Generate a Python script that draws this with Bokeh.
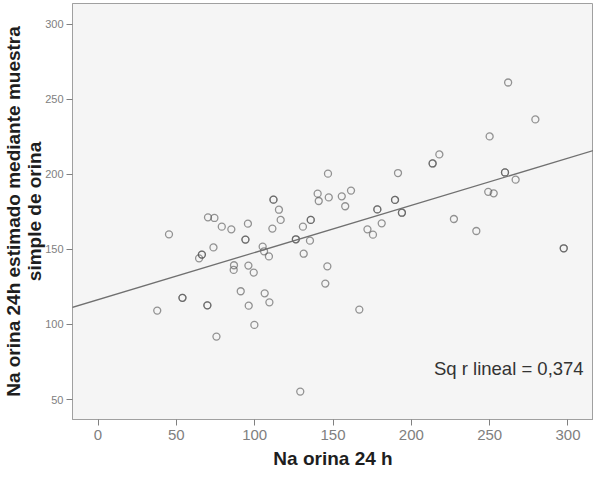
from bokeh.plotting import figure
from bokeh.models import Range1d, Slope, Label, FixedTicker
from bokeh.embed import file_html
from bokeh.resources import INLINE

# Data
na_orina_24h = [37.8, 45.3, 53.9, 53.9, 64.5, 66.3, 66.3, 69.8, 69.8, 70.2,
                73.7, 74.3, 75.6, 79.0, 85.1, 86.8, 86.6, 91.1, 94.1, 94.1,
                95.7, 96.0, 96.2, 99.4, 99.8, 105.1, 106.0, 106.4, 109.1, 109.4,
                111.3, 112.0, 112.0, 115.5, 116.6, 126.3, 126.3, 129.1, 130.8, 131.3,
                135.3, 135.8, 135.8, 140.2, 140.9, 145.1, 146.4, 146.8, 147.3, 155.6,
                157.8, 161.5, 166.8, 172.0, 175.5, 178.3, 178.3, 181.1, 189.6, 189.6,
                191.5, 194.0, 194.0, 213.6, 213.6, 217.9, 227.2, 241.5, 249.1, 250.0,
                252.6, 259.8, 259.8, 261.8, 266.6, 279.2, 297.3, 297.3]
na_estimado = [109.2, 160.0, 117.7, 117.7, 144.0, 146.5, 146.5, 112.7, 112.7, 171.3,
               151.3, 170.9, 91.9, 165.1, 163.3, 139.4, 136.3, 122.1, 156.5, 156.5,
               167.1, 139.2, 112.5, 134.5, 99.7, 151.8, 148.7, 120.7, 145.3, 114.7,
               163.8, 183.1, 183.1, 176.4, 169.6, 156.7, 156.7, 55.3, 165.1, 147.1,
               155.8, 169.6, 169.6, 187.1, 182.2, 127.2, 138.7, 200.4, 184.6, 185.3,
               178.7, 189.1, 109.9, 163.3, 159.8, 176.6, 176.6, 167.3, 182.9, 182.9,
               200.8, 174.4, 174.4, 207.2, 207.2, 213.2, 170.2, 162.2, 188.3, 225.2,
               187.3, 201.2, 201.2, 261.1, 196.4, 236.5, 150.7, 150.7]

fit_intercept = 116.5
fit_slope = 0.314
r2_text = "Sq r lineal = 0,374"

x_ticks = [0, 50, 100, 150, 200, 250, 300]
y_ticks = [50, 100, 150, 200, 250, 300]

p = figure(frame_width=521, frame_height=416,
           x_range=Range1d(-16.3, 316.3), y_range=Range1d(36.7, 313.7),
           output_backend="svg", toolbar_location=None,
           min_border_left=65, min_border_right=0, min_border_top=3,
           min_border_bottom=40)

p.background_fill_color = "#f5f5f5"
p.border_fill_color = "white"
p.outline_line_color = "#a0a0a0"
p.grid.visible = False

p.scatter(na_orina_24h, na_estimado, size=7, fill_color=None,
          line_color="#505050", line_alpha=0.6, line_width=1.3)

p.add_layout(Slope(gradient=fit_slope, y_intercept=fit_intercept,
                   line_color="#707070", line_width=1.3))

p.add_layout(Label(x=310, y=70.4, text=r2_text, text_align="right",
                   text_baseline="alphabetic", text_font="Liberation Sans",
                   text_font_size="18.5px", text_color="#333333"))

for ax in (p.xaxis[0], p.yaxis[0]):
    ax.axis_line_color = "#a0a0a0"
    ax.major_tick_line_color = "#808080"
    ax.major_tick_in = 0
    ax.major_tick_out = 6
    ax.minor_tick_line_color = None
    ax.major_label_text_color = "#808080"
    ax.major_label_text_font = "Liberation Sans"
    ax.axis_label_text_font = "Liberation Sans"
    ax.axis_label_text_font_style = "bold"
    ax.axis_label_text_color = "#1e1e1e"
    ax.axis_label_text_font_size = "19px"

p.xaxis.ticker = FixedTicker(ticks=x_ticks)
p.yaxis.ticker = FixedTicker(ticks=y_ticks)
p.xaxis.major_label_text_font_size = "15px"
p.yaxis.major_label_text_font_size = "11px"
p.xaxis.major_label_standoff = 4
p.yaxis.major_label_standoff = 3
p.xaxis.axis_label = "Na orina 24 h"
p.xaxis.axis_label_standoff = 5
p.yaxis.axis_label = "Na orina 24h estimado mediante muestra\nsimple de orina"
p.yaxis.axis_label_standoff = -3
p.yaxis.axis_label_text_line_height = 1.0

open("out.html", "w").write(file_html(p, INLINE))
